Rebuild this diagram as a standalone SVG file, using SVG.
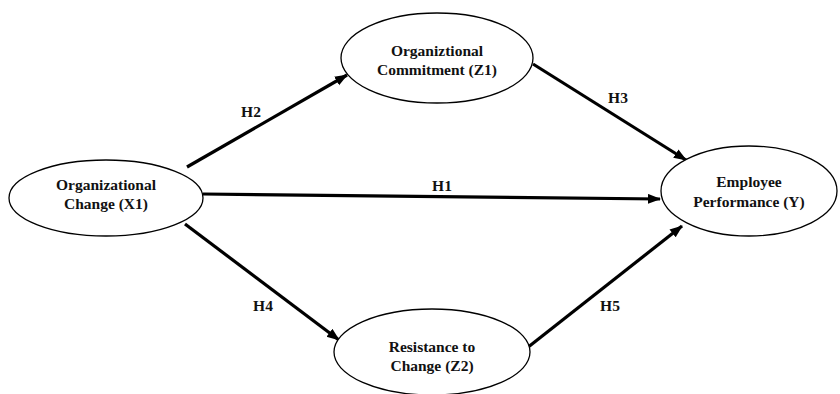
<svg xmlns="http://www.w3.org/2000/svg" width="840" height="394" viewBox="0 0 840 394">
<style>
.node ellipse{fill:#fff;stroke:#000;stroke-width:1.3}
text{font-family:"Liberation Serif","Times New Roman",serif;font-weight:bold;font-size:15.5px;fill:#111;text-anchor:middle}
.conn line{stroke:#000;stroke-width:3.2}
</style>
<defs>
<marker id="ah" markerUnits="userSpaceOnUse" markerWidth="14" markerHeight="12" refX="12" refY="5" orient="auto">
<path d="M0,0 L13,5 L0,10 Z" fill="#000"/>
</marker>
</defs>
<g class="conn" id="connectors">
<line x1="187" y1="167" x2="347" y2="75" marker-end="url(#ah)"/>
<line x1="533" y1="64" x2="686" y2="160" marker-end="url(#ah)"/>
<line x1="203" y1="194" x2="660" y2="199" marker-end="url(#ah)"/>
<line x1="185" y1="224" x2="339" y2="340" marker-end="url(#ah)"/>
<line x1="527" y1="348" x2="682" y2="226" marker-end="url(#ah)"/>
<text x="251" y="117">H2</text>
<text x="618" y="103">H3</text>
<text x="442" y="191">H1</text>
<text x="263" y="311">H4</text>
<text x="610" y="311">H5</text>
</g>
<g class="node" id="x1">
<ellipse cx="106" cy="198" rx="97" ry="38"/>
<text x="106" y="190">Organizational</text>
<text x="106" y="209">Change (X1)</text>
</g>
<g class="node" id="z1">
<ellipse cx="437" cy="58" rx="96" ry="45"/>
<text x="437" y="56">Organiztional</text>
<text x="437" y="75">Commitment (Z1)</text>
</g>
<g class="node" id="y">
<ellipse cx="749" cy="191" rx="88" ry="45"/>
<text x="749" y="187">Employee</text>
<text x="749" y="207">Performance (Y)</text>
</g>
<g class="node" id="z2">
<ellipse cx="432" cy="352" rx="98" ry="43"/>
<text x="432" y="352">Resistance to</text>
<text x="432" y="371">Change (Z2)</text>
</g>
</svg>
